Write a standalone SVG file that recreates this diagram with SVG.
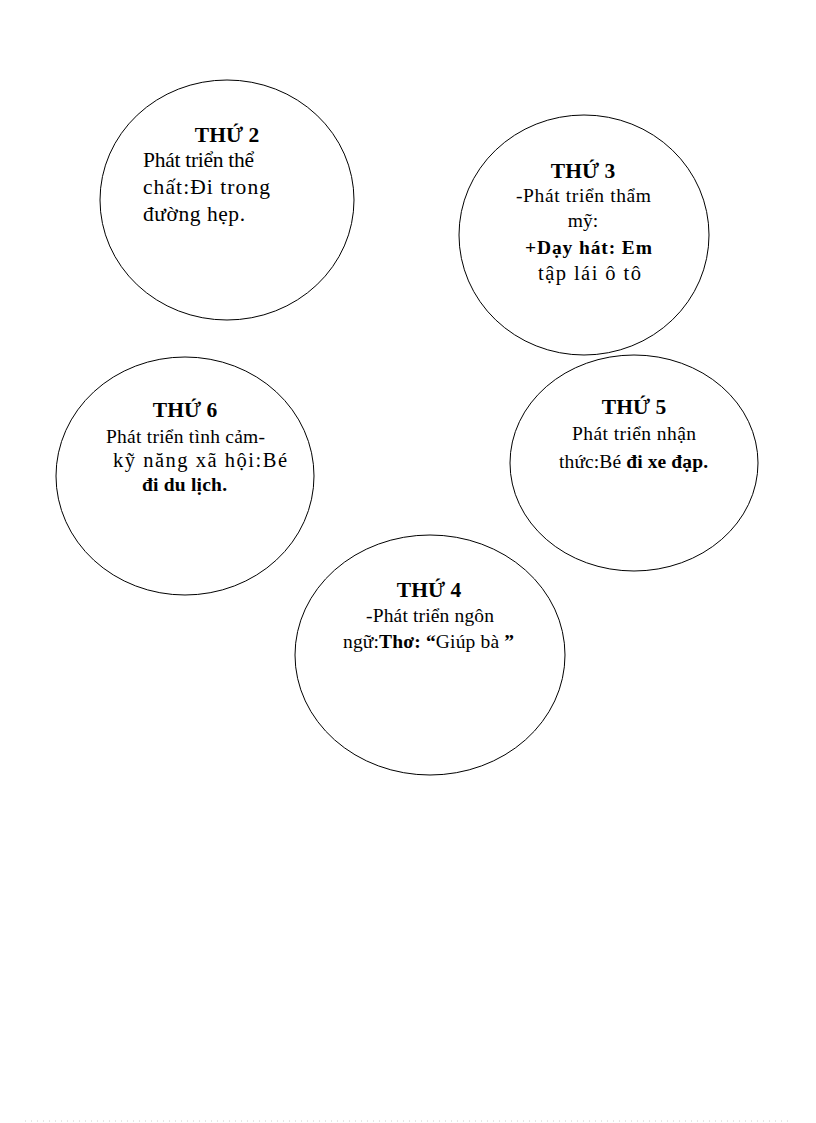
<svg xmlns="http://www.w3.org/2000/svg" width="816" height="1123" viewBox="0 0 816 1123">
<style>
.c{fill:#fff;stroke:#000;stroke-width:1}
text{font-family:"Liberation Serif","Times New Roman",serif;fill:#000}
.t{font-size:21.5px;font-weight:bold;text-anchor:middle}
.b{font-size:19.5px}
.b1{font-size:21.5px}
.bd{font-weight:bold}
</style>
<rect width="816" height="1123" fill="#fff"/>
<g id="node-thu2">
<ellipse class="c" cx="227" cy="200" rx="127" ry="120"/>
<text class="t" x="227" y="142">THỨ 2</text>
<text class="b1" x="143" y="167" textLength="111" lengthAdjust="spacing">Phát triển thể</text>
<text class="b1" x="143" y="194" textLength="127" lengthAdjust="spacing">chất:Đi trong</text>
<text class="b1" x="143" y="221" textLength="102" lengthAdjust="spacing">đường hẹp.</text>
</g>
<g id="node-thu3">
<ellipse class="c" cx="584" cy="235" rx="125" ry="120"/>
<text class="t" x="583" y="178">THỨ 3</text>
<text class="b" x="516" y="202" textLength="135" lengthAdjust="spacing">-Phát triển  thẩm</text>
<text class="b" x="583" y="227" text-anchor="middle">mỹ:</text>
<text class="b bd" x="525" y="254" textLength="127" lengthAdjust="spacing">+Dạy hát: Em</text>
<text class="b" x="538" y="280" textLength="103" lengthAdjust="spacing" style="font-size:20.5px">tập lái ô tô</text>
</g>
<g id="node-thu6">
<ellipse class="c" cx="185" cy="476" rx="129" ry="119"/>
<text class="t" x="185" y="417">THỨ 6</text>
<text class="b" x="106" y="443" textLength="159" lengthAdjust="spacing">Phát triển tình cảm-</text>
<text class="b" x="113" y="467" textLength="174" lengthAdjust="spacing" style="font-size:20.5px">kỹ năng xã hội:Bé</text>
<text class="b bd" x="142" y="491" textLength="85" lengthAdjust="spacing">đi du lịch.</text>
</g>
<g id="node-thu5">
<ellipse class="c" cx="634" cy="463" rx="124" ry="108"/>
<text class="t" x="634" y="414">THỨ 5</text>
<text class="b" x="572" y="440" textLength="124" lengthAdjust="spacing">Phát triển nhận</text>
<text class="b" x="559" y="468" textLength="149" lengthAdjust="spacing">thức:Bé <tspan class="bd">đi xe đạp.</tspan></text>
</g>
<g id="node-thu4">
<ellipse class="c" cx="430" cy="655" rx="135" ry="120"/>
<text class="t" x="429" y="597">THỨ 4</text>
<text class="b" x="366" y="622" textLength="128" lengthAdjust="spacing">-Phát triển ngôn</text>
<text class="b" x="343" y="648" textLength="171" lengthAdjust="spacing">ngữ:<tspan class="bd">Thơ: “</tspan>Giúp bà <tspan class="bd">”</tspan></text>
</g>
<g id="connectors"></g>
<line x1="25" y1="1121" x2="792" y2="1121" stroke="#ccc" stroke-width="1" stroke-dasharray="1,5"/>
</svg>
